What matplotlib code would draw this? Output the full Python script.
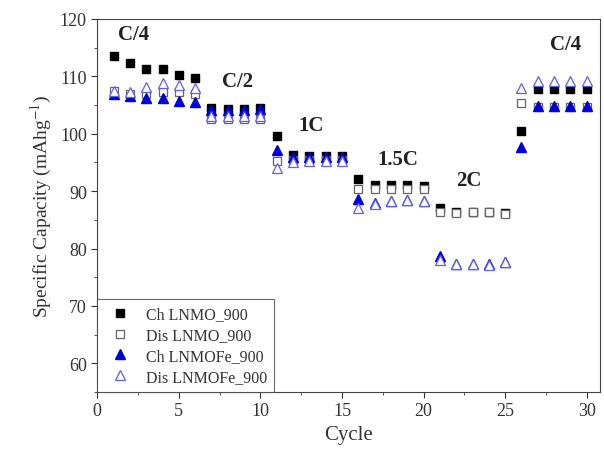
import matplotlib
matplotlib.use("Agg")
import matplotlib.pyplot as plt
from matplotlib.ticker import MultipleLocator

plt.rcParams["font.family"] = ["Liberation Serif", "DejaVu Serif"]
plt.rcParams["mathtext.fontset"] = "stix"

# --- Data ---
cycles = list(range(1, 31))

ch_lnmo = [113.5, 112.4, 111.3, 111.3, 110.2, 109.7,
           104.4, 104.3, 104.3, 104.4,
           99.6, 96.3, 96.2, 96.2, 96.2,
           92.1, 91.0, 91.0, 91.0, 90.9,
           87.0, 86.3, 86.3, 86.3, 86.2,
           100.4, 107.8, 107.8, 107.8, 107.8]
dis_lnmo = [107.5, 107.0, 107.0, 107.2, 107.3, 107.0,
            102.5, 102.5, 102.5, 102.5,
            95.2, 95.4, 95.5, 95.5, 95.5,
            90.3, 90.4, 90.4, 90.4, 90.3,
            86.3, 86.2, 86.3, 86.3, 86.0,
            105.3, 104.6, 104.6, 104.6, 104.6]
ch_lnmofe = [107.0, 106.5, 106.2, 106.2, 105.7, 105.5,
             104.2, 104.1, 104.2, 104.3,
             97.1, 95.9, 95.9, 95.9, 95.9,
             88.7, 88.0, 88.3, 88.5, 88.2,
             78.7, 77.3, 77.3, 77.3, 77.7,
             97.7, 104.9, 104.9, 104.9, 104.9]
dis_lnmofe = [107.5, 107.2, 108.2, 108.8, 108.4, 108.0,
              103.0, 103.0, 103.0, 103.0,
              94.0, 95.0, 95.2, 95.3, 95.3,
              87.0, 87.7, 88.2, 88.5, 88.2,
              78.0, 77.3, 77.3, 77.1, 77.7,
              107.9, 109.1, 109.1, 109.1, 109.1]

rate_labels = ["C/4", "C/2", "1C", "1.5C", "2C", "C/4"]
rate_x = [2.2, 8.6, 13.1, 18.4, 22.8, 28.7]
rate_y = [117.3, 109.2, 101.6, 95.6, 92.0, 115.6]

BLUE = "#0000DD"

fig = plt.figure(figsize=(6.04, 4.52), dpi=100)
ax = fig.add_axes([0.161, 0.1305, 0.832, 0.8255])

ax.plot(cycles, ch_lnmo, "s", color="black", markersize=5.5,
        linestyle="none", label="Ch LNMO_900")
ax.plot(cycles, dis_lnmo, "s", markerfacecolor="white", markeredgecolor="#666666",
        markeredgewidth=0.9, markersize=5.5, linestyle="none", label="Dis LNMO_900")
ax.plot(cycles, ch_lnmofe, "^", color=BLUE, markersize=7,
        linestyle="none", label="Ch LNMOFe_900")
ax.plot(cycles, dis_lnmofe, "^", markerfacecolor="white", markeredgecolor="#6060EE",
        markeredgewidth=0.9, markersize=7, linestyle="none", label="Dis LNMOFe_900")

for lab, x, y in zip(rate_labels, rate_x, rate_y):
    ax.text(x, y, lab, fontsize=15, fontweight="bold", ha="center", va="center",
            color="#222222")

ax.set_xlim(0, 30.8)
ax.set_ylim(55, 120)
ax.xaxis.set_major_locator(MultipleLocator(5))
ax.xaxis.set_minor_locator(MultipleLocator(2.5))
ax.yaxis.set_major_locator(MultipleLocator(10))
ax.yaxis.set_minor_locator(MultipleLocator(5))
ax.set_yticks([60, 70, 80, 90, 100, 110, 120])
ax.tick_params(which="both", direction="out", labelsize=13, colors="#333333")
ax.tick_params(which="major", length=4)
ax.tick_params(which="minor", length=2.5)
for s in ax.spines.values():
    s.set_color("#444444")

ax.set_xlabel("Cycle", fontsize=15, color="#333333")
ax.set_ylabel("Specific Capacity (mAhg$^{-1}$)", fontsize=14, color="#333333")

leg = ax.legend(loc="lower left", fontsize=11.5, frameon=True, fancybox=False,
                borderaxespad=0, edgecolor="#444444", handletextpad=0.6,
                labelspacing=0.3, borderpad=0.45)
leg.get_frame().set_linewidth(0.8)
for t in leg.get_texts():
    t.set_color("#333333")

fig.savefig("out.png", dpi=100)
